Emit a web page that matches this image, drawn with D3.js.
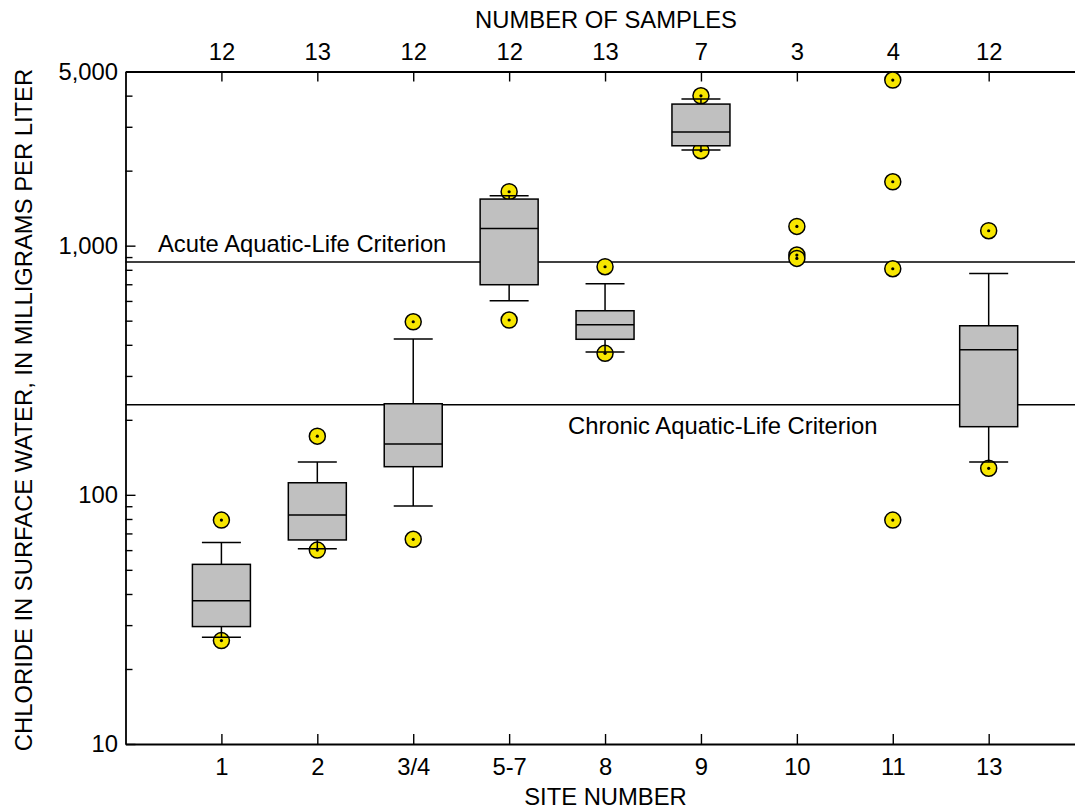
<!DOCTYPE html>
<html>
<head>
<meta charset="utf-8">
<script src="https://cdn.jsdelivr.net/npm/d3@7"></script>
<style>
  html, body { margin: 0; padding: 0; background: #fff; }
  svg { display: block; }
  text { font-family: "Liberation Sans", Arial, Helvetica, sans-serif; fill: #000; }
</style>
</head>
<body>
<svg id="chart" width="1075" height="810"></svg>
<script>
// ---------------- DATA ----------------
const sites = ["1", "2", "3/4", "5-7", "8", "9", "10", "11", "13"];
const sampleCounts = [12, 13, 12, 12, 13, 7, 3, 4, 12];
// box statistics (null = no box drawn)
const whiskerLow  = [26.8, 60.8, 90.2, 601, 374, 2419, null, null, 135.4];
const q1          = [29.6, 65.9, 129.7, 697, 421, 2517, null, null, 187.7];
const median      = [37.6, 82.9, 160, 1173, 481.6, 2857, null, null, 382];
const q3          = [52.6, 111.8, 232, 1538, 548, 3700, null, null, 477];
const whiskerHigh = [64.3, 135.4, 422, 1586, 703, 3880, null, null, 774];
// individual points plotted as circles
const outliers = [
  [79.2, 26.0],
  [172, 60.0],
  [495, 66.3],
  [1646, 503],
  [823, 369.7],
  [3995, 2404],
  [1195, 917, 889],
  [4620, 1805, 808, 79.2],
  [1148, 127.8]
];
// criteria
const criteria = [
  { name: "Acute Aquatic-Life Criterion", value: 860 },
  { name: "Chronic Aquatic-Life Criterion", value: 230 }
];
const yMajorTicks = [10, 100, 1000, 5000];
const yMinorTicks = [20, 30, 40, 50, 60, 70, 80, 90, 200, 300, 400, 500, 600, 700, 800, 900, 2000, 3000, 4000];

// ---------------- LAYOUT ----------------
const pL = 125.5, pR = 1075, pT = 71.5, pB = 744;
const FS = 23.8;
const svg = d3.select("#chart");

const x = d3.scaleLinear().domain([0, 9.9]).range([pL, pR]);
const y = d3.scaleLog().domain([10, 5000]).range([pB, pT]);
const xi = i => x(i + 1);

// criterion lines (behind boxes)
criteria.forEach(c => {
  svg.append("line")
    .attr("x1", pL).attr("x2", pR)
    .attr("y1", y(c.value)).attr("y2", y(c.value))
    .attr("stroke", "#000").attr("stroke-width", 1.6);
});
svg.append("text").attr("x", 158).attr("y", y(criteria[0].value) - 9.5)
  .attr("font-size", FS).text(criteria[0].name);
svg.append("text").attr("x", 568).attr("y", y(criteria[1].value) + 29)
  .attr("font-size", FS).text(criteria[1].name);

// axes
const fmt = d3.format(",");
const yAxis = d3.axisLeft(y).tickValues(yMajorTicks).tickFormat(d => fmt(d))
  .tickSizeInner(-10).tickSizeOuter(0).tickPadding(7.5);
svg.append("g").attr("transform", `translate(${pL},0)`).call(yAxis);
const yMinor = d3.axisLeft(y).tickValues(yMinorTicks).tickFormat("")
  .tickSizeInner(-7).tickSizeOuter(0);
svg.append("g").attr("transform", `translate(${pL},0)`).call(yMinor)
  .select(".domain").remove();

const xAxis = d3.axisBottom(x).tickValues(d3.range(1, sites.length + 1))
  .tickFormat(d => sites[d - 1]).tickSizeInner(-10).tickSizeOuter(0).tickPadding(14.5);
svg.append("g").attr("transform", `translate(0,${pB})`).call(xAxis);

const xTop = d3.axisTop(x).tickValues(d3.range(1, sites.length + 1))
  .tickFormat(d => sampleCounts[d - 1]).tickSizeInner(-10).tickSizeOuter(0).tickPadding(12);
svg.append("g").attr("transform", `translate(0,${pT})`).call(xTop);

svg.selectAll(".domain").attr("stroke", "#000").attr("stroke-width", 1.8);
svg.selectAll(".tick line").attr("stroke", "#000").attr("stroke-width", 1.4);
svg.selectAll(".tick text").attr("font-size", FS)
  .attr("font-family", '"Liberation Sans", Arial, Helvetica, sans-serif').attr("fill", "#000");

// titles
svg.append("text").attr("x", 606).attr("y", 28).attr("text-anchor", "middle")
  .attr("font-size", FS).text("NUMBER OF SAMPLES");
svg.append("text").attr("x", 605.5).attr("y", 805).attr("text-anchor", "middle")
  .attr("font-size", FS).text("SITE NUMBER");
svg.append("text").attr("transform", "translate(32,410) rotate(-90)")
  .attr("text-anchor", "middle").attr("font-size", FS)
  .text("CHLORIDE IN SURFACE WATER, IN MILLIGRAMS PER LITER");

// outlier circles (drawn beneath box elements)
const pts = [];
outliers.forEach((arr, i) => arr.forEach(v => pts.push({ i, v })));
const gp = svg.append("g");
gp.selectAll("circle.o").data(pts).join("circle").attr("class", "o")
  .attr("cx", d => xi(d.i)).attr("cy", d => y(d.v)).attr("r", 8)
  .attr("fill", "#f7e600").attr("stroke", "#000").attr("stroke-width", 1.5);
gp.selectAll("circle.dot").data(pts).join("circle").attr("class", "dot")
  .attr("cx", d => xi(d.i)).attr("cy", d => y(d.v)).attr("r", 1.6)
  .attr("fill", "#000");

// boxes
const boxW = 58, capW = 39;
const gb = svg.append("g");
sites.forEach((s, i) => {
  if (q1[i] == null) return;
  const cx = xi(i);
  const seg = (x1, y1, x2, y2) => gb.append("line")
    .attr("x1", x1).attr("y1", y1).attr("x2", x2).attr("y2", y2)
    .attr("stroke", "#000").attr("stroke-width", 1.5);
  seg(cx, y(whiskerHigh[i]), cx, y(q3[i]));
  seg(cx, y(q1[i]), cx, y(whiskerLow[i]));
  seg(cx - capW / 2, y(whiskerHigh[i]), cx + capW / 2, y(whiskerHigh[i]));
  seg(cx - capW / 2, y(whiskerLow[i]), cx + capW / 2, y(whiskerLow[i]));
  gb.append("rect").attr("x", cx - boxW / 2).attr("y", y(q3[i]))
    .attr("width", boxW).attr("height", y(q1[i]) - y(q3[i]))
    .attr("fill", "#c0c0c0").attr("stroke", "#000").attr("stroke-width", 1.5);
  seg(cx - boxW / 2, y(median[i]), cx + boxW / 2, y(median[i]));
});
</script>
</body>
</html>
